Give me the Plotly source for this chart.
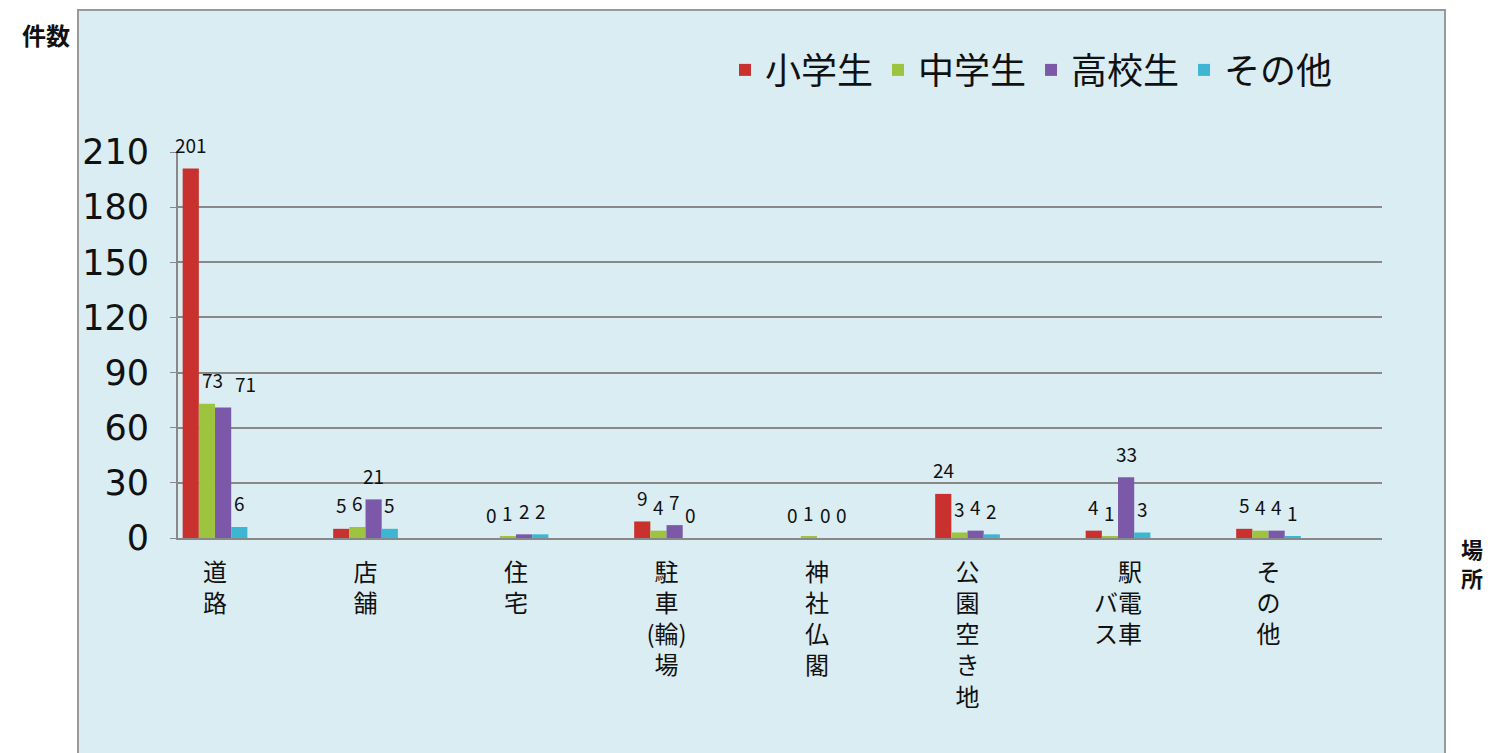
import plotly.graph_objects as go

categories = ["道<br>路", "店<br>舗", "住<br>宅", "駐<br>車<br>(輪)<br>場", "神<br>社<br>仏<br>閣",
              "公<br>園<br>空<br>き<br>地", "　駅<br>バ電<br>ス車", "そ<br>の<br>他"]
series_names = ["小学生", "中学生", "高校生", "その他"]
elementary = [201, 5, 0, 9, 0, 24, 4, 5]
junior = [73, 6, 1, 4, 1, 3, 1, 4]
high = [71, 21, 2, 7, 0, 4, 33, 4]
other = [6, 5, 2, 0, 0, 2, 3, 1]
colors = ["#C9312E", "#9DC33F", "#7C58A8", "#3CB6D2"]
y_ticks = [0, 30, 60, 90, 120, 150, 180, 210]

FONT = "Noto Sans CJK JP"
OFF = 8  # page body margin
W, H = 1498 - OFF, 753 - OFF
PL, PR, PT, PB = 178, 1382, 152, 538
L, T = PL - OFF, PT - OFF
R = W - (PR - OFF)
B = H - (PB - OFF)
pw, ph = PR - PL, PB - PT

def px(x):
    return (x - PL) / pw

def py(y):
    return (PB - y) / ph

BARGAP = 0.57
n_series = len(series_names)
bar_w = (1 - BARGAP) / n_series
# label nudges (pixels) to avoid collisions, as in the reference
label_nudge = {(0, 1): 6, (0, 2): 22}

x_idx = list(range(len(categories)))
all_vals = [elementary, junior, high, other]
fig = go.Figure()
annotations = []
for s, (name, vals, col) in enumerate(zip(series_names, all_vals, colors)):
    fig.add_trace(go.Bar(
        x=x_idx, y=vals, name=name, marker=dict(color=col, line=dict(width=0)),
    ))
    off = (s - (n_series - 1) / 2) * bar_w
    for i, v in enumerate(vals):
        annotations.append(dict(
            x=i + off, y=v, xref="x", yref="y", text=str(v), showarrow=False,
            xanchor="center", yanchor="middle", yshift=24,
            xshift=label_nudge.get((i, s), 0),
            font=dict(family=FONT, size=19, color="#111")))

annotations += [
    dict(text="件数", xref="paper", yref="paper", x=px(46), y=py(34),
         xanchor="center", yanchor="middle",
         showarrow=False, font=dict(size=24, family=FONT, color="#111", weight=600)),
    dict(text="場<br>所", xref="paper", yref="paper", x=px(1472), y=py(562),
         xanchor="center", yanchor="middle",
         showarrow=False, font=dict(size=22, family=FONT, color="#111", weight=600)),
]

fig.update_layout(
    width=W, height=H, barmode="group", bargap=BARGAP, bargroupgap=0,
    margin=dict(l=L, r=R, t=T, b=B),
    paper_bgcolor="white", plot_bgcolor="#FDE9D9",
    font=dict(family=FONT, color="#111"),
    legend=dict(orientation="h", x=px(725), y=py(70), xanchor="left", yanchor="middle",
                font=dict(size=36, family=FONT), bgcolor="rgba(0,0,0,0)",
                itemwidth=30, tracegroupgap=0),
    xaxis=dict(tickmode="array", tickvals=x_idx, ticktext=categories,
               range=[-0.246, 7.754], showgrid=False, showline=True,
               linecolor="#888", linewidth=2, ticks="", ticklabelstandoff=12,
               tickfont=dict(size=24, family=FONT, color="#111"), tickangle=0),
    yaxis=dict(range=[0, 210], tickvals=y_ticks, showgrid=True, gridcolor="#888",
               gridwidth=2, showline=True, linecolor="#888", linewidth=2,
               ticks="outside", ticklen=6, tickcolor="#888", zeroline=False,
               ticklabelstandoff=14,
               tickfont=dict(size=35, family="DejaVu Sans", color="#111")),
    shapes=[dict(type="rect", xref="paper", yref="paper", x0=px(78), x1=px(1445),
                 y0=py(760), y1=py(10), fillcolor="#DAEDF3",
                 line=dict(color="#999", width=2), layer="below")],
    annotations=annotations,
)

fig.write_html("out.html")
